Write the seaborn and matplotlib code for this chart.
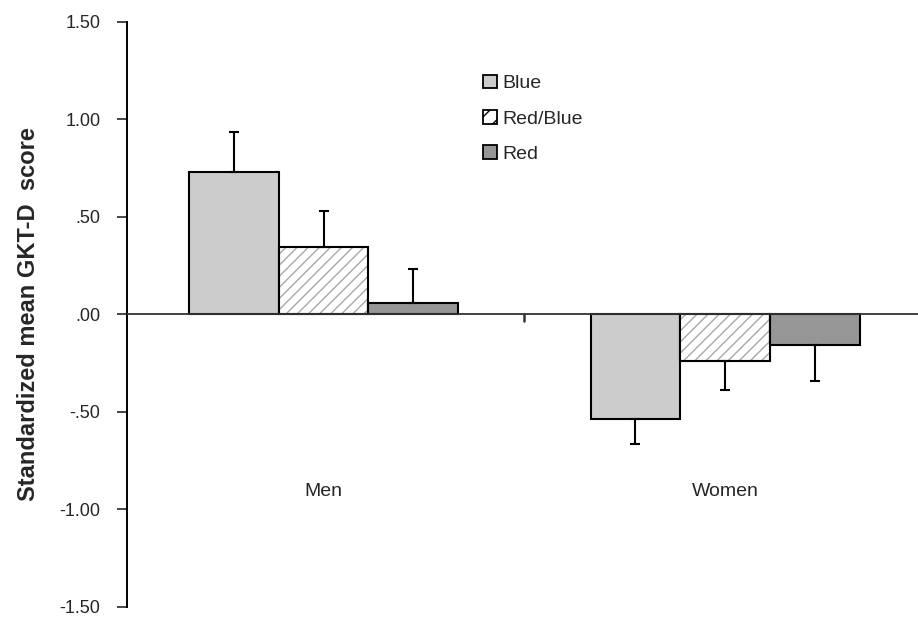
import matplotlib
matplotlib.use("Agg")
import matplotlib.pyplot as plt
from matplotlib.patches import Rectangle
import seaborn as sns
import pandas as pd
import numpy as np

# values
groups = ["Men", "Women"]
conditions = ["Blue", "Red/Blue", "Red"]
men_means = [0.73, 0.345, 0.06]
women_means = [-0.535, -0.24, -0.155]
men_err = [0.205, 0.185, 0.175]
women_err = [0.13, 0.15, 0.185]
y_ticks = [1.5, 1.0, 0.5, 0.0, -0.5, -1.0, -1.5]
y_tick_labels = ["1.50", "1.00", ".50", ".00", "-.50", "-1.00", "-1.50"]

df = pd.DataFrame({
    "group": [g for g in groups for c in conditions],
    "condition": conditions * 2,
    "score": men_means + women_means,
    "err": men_err + women_err,
})

sns.set_style("white")
plt.rcParams["font.family"] = ["Liberation Sans", "DejaVu Sans"]
plt.rcParams["hatch.linewidth"] = 1.0

fig = plt.figure(figsize=(9.18, 6.27), dpi=100)
ax = fig.add_axes([0.138, 0.032, 0.862, 0.933])

pal = {"Blue": "#cccccc", "Red/Blue": "#ffffff", "Red": "#969696"}
sns.barplot(data=df, x="group", y="score", hue="condition", hue_order=conditions,
            palette=pal, errorbar=None, width=0.67, gap=0, edgecolor="black",
            linewidth=1.5, saturation=1, ax=ax)

hatch_col = "#a8a8a8"

def hatch_it(p):
    p.set_hatch("///")
    if hasattr(p, "set_hatchcolor"):
        p.set_hatchcolor(hatch_col)
        return None
    # older matplotlib: hatch follows the edge colour, so redraw the outline on top
    p.set_edgecolor(hatch_col)
    return Rectangle(p.get_xy(), p.get_width(), p.get_height(), fill=False,
                     edgecolor="black", linewidth=p.get_linewidth(),
                     zorder=p.get_zorder() + 0.1)

# error bars only go away from zero, like the original
for cont, cond in zip(ax.containers, conditions):
    sub = df[df.condition == cond]
    for bar, (_, row) in zip(cont, sub.iterrows()):
        if cond == "Red/Blue":
            outline = hatch_it(bar)
            if outline is not None:
                ax.add_patch(outline)
        xc = bar.get_x() + bar.get_width() / 2
        v = row.score
        if v >= 0:
            yerr = [[0], [row.err]]
        else:
            yerr = [[row.err], [0]]
        ax.errorbar(xc, v, yerr=yerr, fmt="none", ecolor="black",
                    elinewidth=1.5, capsize=3.5, capthick=1.5, zorder=1)

ax.set_xlim(-0.49, 1.48)
ax.set_ylim(-1.5, 1.5)
ax.set_yticks(y_ticks)
ax.set_yticklabels(y_tick_labels, fontsize=13)
ax.tick_params(axis="y", direction="out", length=7, width=1.2, left=True, pad=12)
ax.set_ylabel("Standardized mean GKT-D  score", fontsize=17, fontweight="bold", labelpad=14)

# horizontal axis drawn at zero, with one tick between the groups
ax.axhline(0, color="#333333", linewidth=1.3, zorder=3)
ax.plot([0.5, 0.5], [0, -0.035], color="#333333", linewidth=1.8, zorder=3)
ax.set_xticks([])
ax.set_xlabel("")
for i, g in enumerate(groups):
    ax.text(i, -0.91, g, ha="center", va="center", fontsize=14)

for s in ["top", "right", "bottom"]:
    ax.spines[s].set_visible(False)
ax.spines["left"].set_color("black")
ax.spines["left"].set_linewidth(1.4)

leg = ax.legend(loc="upper left", bbox_to_anchor=(0.45, 0.91), frameon=False,
                fontsize=14, handlelength=0.72, handleheight=0.72,
                handletextpad=0.3, labelspacing=0.9, borderpad=0, borderaxespad=0)
for h in leg.legend_handles:
    h.set_edgecolor("black")
    h.set_linewidth(1.3)
hh = leg.legend_handles[1]
hh.set_hatch("//")
if hasattr(hh, "set_hatchcolor"):
    hh.set_hatchcolor(hatch_col)

fig.savefig("out.png", dpi=100)
